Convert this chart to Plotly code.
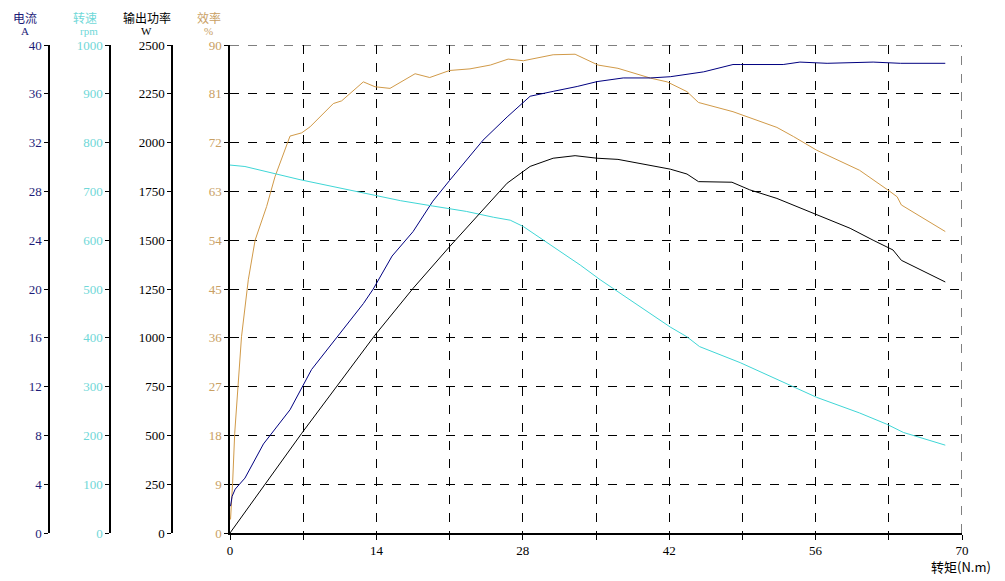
import plotly.graph_objects as go

OFF = 8  # browser body margin
W, H = 1005 - OFF, 581 - OFF
L_PX, R_PX, T_PX, B_PX = 230 - OFF, 962 - OFF, 45 - OFF, 533 - OFF

# ---- data ----
eff_torque = [0.05, 0.25, 0.45, 0.73, 1.1, 1.75, 2.4, 3.5, 4.3, 5.74, 6.86, 7.65, 9.88, 10.68, 12.75,
              13.87, 15.3, 17.7, 19.1, 21.0, 22.95, 24.9, 26.6, 28.05, 30.9, 33.0, 35.2, 37.1, 40.2,
              41.8, 43.7, 44.8, 48.1, 52.3, 53.9, 56.1, 60.2, 63.1, 63.8, 64.2, 68.4]
eff_pct = [2.5, 9.2, 18.4, 27, 36.2, 46.7, 54, 60.2, 65.7, 73.2, 73.8, 74.9, 79.2, 79.7, 83.2,
           82.3, 82.0, 84.7, 84.0, 85.3, 85.6, 86.3, 87.4, 87.1, 88.2, 88.3, 86.3, 85.7, 83.9,
           83.2, 81.4, 79.4, 77.7, 74.8, 73.1, 70.6, 66.9, 63.0, 62.0, 60.5, 55.6]

cur_torque = [0.05, 0.2, 0.5, 1.43, 3.2, 5.74, 7.8, 10.7, 12.75, 13.7, 15.5, 17.5, 19.4, 21.0, 24.2,
              26.5, 28.7, 30.9, 33.2, 35.1, 37.6, 40.2, 42.1, 45.3, 48.1, 48.8, 52.9, 54.5, 57.1,
              61.5, 64.1, 68.4]
cur_amp = [2.2, 3.0, 3.6, 4.5, 7.3, 10.1, 13.4, 16.6, 18.8, 20.0, 22.7, 24.7, 27.2, 28.9, 32.2,
           34.1, 35.8, 36.2, 36.6, 37.0, 37.3, 37.3, 37.4, 37.8, 38.4, 38.4, 38.4, 38.6, 38.5,
           38.6, 38.5, 38.5]

spd_torque = [0, 1.43, 6.7, 11.5, 16.3, 19.4, 22.6, 25.2, 26.8, 28.05, 29.96, 33.5, 35.4, 38.9,
              42.1, 43.7, 44.9, 48.8, 53.9, 56.1, 60.2, 62.8, 64.4, 68.4]
spd_rpm = [754, 751, 724, 703, 681, 670, 659, 647, 641, 628, 600, 549, 519, 468,
           422, 402, 382, 349, 300, 278, 246, 223, 206, 180]

pw_torque = [0, 6.86, 13.87, 17.5, 21.0, 23.9, 26.5, 28.7, 30.9, 33.0, 35.1, 37.1, 40.2, 42.1,
             43.7, 44.8, 48.0, 49.7, 52.3, 56.1, 59.3, 61.5, 63.4, 64.2, 68.4]
pw_watt = [0, 511, 1014, 1253, 1467, 1639, 1792, 1878, 1920, 1933, 1920, 1914, 1881, 1864,
           1839, 1800, 1797, 1758, 1714, 1633, 1561, 1500, 1450, 1397, 1286]

x_ticks = [0, 14, 28, 42, 56, 70]

C_CUR = "#000080"
C_CUR_T = "#1c1c78"
C_SPD = "#3fd6d6"
C_SPD_T = "#6fd8d8"
C_PW = "#000000"
C_EFF = "#d19a48"
C_EFF_T = "#c9a063"

NUM_FONT = "Liberation Serif"
CJK_FONT = "Noto Sans CJK SC"

fig = go.Figure()
fig.add_trace(go.Scatter(x=eff_torque, y=eff_pct, mode="lines", line=dict(color=C_EFF, width=1), yaxis="y"))
fig.add_trace(go.Scatter(x=cur_torque, y=cur_amp, mode="lines", line=dict(color=C_CUR, width=1), yaxis="y2"))
fig.add_trace(go.Scatter(x=spd_torque, y=spd_rpm, mode="lines", line=dict(color=C_SPD, width=1), yaxis="y3"))
fig.add_trace(go.Scatter(x=pw_torque, y=pw_watt, mode="lines", line=dict(color=C_PW, width=1), yaxis="y4"))

def yax(rng, dtick, color, pos=None):
    d = dict(range=rng, dtick=dtick, showline=True, linecolor="black", linewidth=1.5,
             ticks="outside", ticklen=4, tickcolor="black", showgrid=False, zeroline=False,
             automargin=False,
             tickfont=dict(family=NUM_FONT, size=13, color=color), fixedrange=True)
    if pos is not None:
        d.update(anchor="free", overlaying="y", position=pos, side="left")
    return d

fig.update_layout(
    width=W, height=H,
    margin=dict(l=0, r=0, t=T_PX, b=H - B_PX, autoexpand=False),
    paper_bgcolor="white", plot_bgcolor="white",
    showlegend=False,
    xaxis=dict(domain=[L_PX / W, R_PX / W], range=[0, 70], tickvals=x_ticks, automargin=False,
               showline=True, linecolor="black", linewidth=1.5, ticks="outside", ticklen=5,
               tickcolor="black", showgrid=True, gridcolor="black", griddash="dash", gridwidth=1,
               zeroline=False, tickfont=dict(family=NUM_FONT, size=13, color="black"),
               minor=dict(dtick=7, tick0=0, showgrid=True, gridcolor="black", griddash="dash",
                          ticks="outside", ticklen=5, tickcolor="black")),
    yaxis=dict(yax([0, 90], 9, C_EFF_T), showgrid=True, gridcolor="black", griddash="dash", gridwidth=1),
    yaxis2=yax([0, 40], 4, C_CUR_T, (49 - OFF) / W),
    yaxis3=yax([0, 1000], 100, C_SPD_T, (110 - OFF) / W),
    yaxis4=yax([0, 2500], 250, "black", (172 - OFF) / W),
)

# dashed borders at top and right
fig.add_shape(type="line", xref="x", yref="y", x0=0, x1=70, y0=90, y1=90,
              line=dict(color="black", width=1, dash="dash"))
fig.add_shape(type="line", xref="x", yref="y", x0=70, x1=70, y0=0, y1=90,
              line=dict(color="black", width=1, dash="dash"))

def px_x(px):
    return (px - OFF) / W

def px_y(py):
    return (B_PX - (py - OFF)) / (B_PX - T_PX)

headers = [
    ("电流", "A", 25, 25, C_CUR_T),
    ("转速", "rpm", 85, 89, C_SPD_T),
    ("输出功率", "W", 147, 146, "black"),
    ("效率", "%", 209, 208, C_EFF_T),
]
for top, unit, cx, ux, col in headers:
    fig.add_annotation(text=top, x=px_x(cx), y=px_y(8), xref="paper", yref="paper",
                       showarrow=False, xanchor="center", yanchor="top", borderpad=0,
                       font=dict(family=CJK_FONT, size=12, color=col))
    fig.add_annotation(text=unit, x=px_x(ux), y=px_y(24), xref="paper", yref="paper",
                       showarrow=False, xanchor="center", yanchor="top", borderpad=0,
                       font=dict(family=NUM_FONT, size=11, color=col))

fig.add_annotation(text="转矩(N.m)", x=px_x(961), y=px_y(566), xref="paper", yref="paper",
                   showarrow=False, xanchor="center", yanchor="middle", borderpad=0,
                   font=dict(family=CJK_FONT + ", " + NUM_FONT, size=13, color="black"))

fig.write_html("out.html")
